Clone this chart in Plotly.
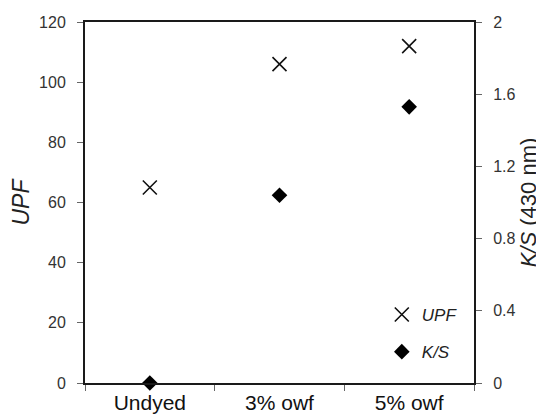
import plotly.graph_objects as go

categories = ["Undyed", "3% owf", "5% owf"]
upf_values = [65, 106, 112]
ks_values = [0.0, 1.04, 1.53]

upf_ticks = [0, 20, 40, 60, 80, 100, 120]
ks_ticks = [0, 0.4, 0.8, 1.2, 1.6, 2]
ks_tick_labels = ["0", "0.4", "0.8", "1.2", "1.6", "2"]

FONT = "Liberation Sans, Arial, sans-serif"
AX = "#1a1a1a"
TK = "#666"

# the page body has an 8px default margin, so the figure is sized to fit the window
fig = go.Figure()
fig.add_trace(go.Scatter(
    x=categories, y=upf_values, mode="markers", name="<i>UPF</i>",
    marker=dict(symbol="x-thin", size=14, line=dict(width=1.6, color="#111")),
    cliponaxis=False, legendgroup="a", yaxis="y",
))
fig.add_trace(go.Scatter(
    x=categories, y=ks_values, mode="markers", name="<i>K/S</i>",
    marker=dict(symbol="diamond", size=12, color="#000"),
    cliponaxis=False, legendgroup="b", yaxis="y2",
))

fig.update_layout(
    width=536, height=406,
    margin=dict(l=77, r=70, t=14, b=31),
    paper_bgcolor="white", plot_bgcolor="white",
    font=dict(family=FONT, color="#333"),
    showlegend=True,
    legend=dict(x=0.763, y=0.036, xanchor="left", yanchor="bottom",
                bgcolor="rgba(0,0,0,0)", font=dict(size=17, color="#222"),
                tracegroupgap=12, itemwidth=30),
    xaxis=dict(
        type="category", categoryarray=categories, range=[-0.5, 2.5],
        showline=True, linecolor=AX, linewidth=2, mirror=True,
        ticks="outside", tickson="boundaries", ticklen=6, tickcolor=TK, tickwidth=1,
        showgrid=False, zeroline=False, automargin=False,
        tickfont=dict(size=21, color="#111"), ticklabelstandoff=0,
    ),
    xaxis2=dict(
        overlaying="x", anchor="y", range=[-0.5, 2.5],
        tickvals=[-0.5, 0.5, 1.5, 2.5], ticks="inside", ticklen=6,
        tickcolor=TK, tickwidth=1, showticklabels=False, automargin=False,
        showgrid=False, zeroline=False, showline=False,
    ),
    yaxis=dict(
        range=[0, 120], tickvals=upf_ticks, showline=True, linecolor=AX, linewidth=2,
        ticks="outside", ticklen=6, tickcolor=TK, tickwidth=1,
        showgrid=False, zeroline=False, automargin=False,
        tickfont=dict(size=16, color="#333"), ticklabelstandoff=8,
        title=dict(text="<i>UPF</i>", font=dict(size=23, color="#222"), standoff=11),
    ),
    yaxis2=dict(
        overlaying="y", side="right", range=[0, 2], tickvals=ks_ticks, ticktext=ks_tick_labels,
        showline=True, linecolor=AX, linewidth=2,
        ticks="outside", ticklen=6, tickcolor=TK, tickwidth=1,
        showgrid=False, zeroline=False, automargin=False,
        tickfont=dict(size=16, color="#333"), ticklabelstandoff=8,
        title=dict(text="<i>K/S</i> (430 nm)", font=dict(size=22, color="#222"), standoff=5),
    ),
    yaxis3=dict(
        overlaying="y", side="left", range=[0, 120], tickvals=upf_ticks,
        ticks="inside", ticklen=6, tickcolor=TK, tickwidth=1, automargin=False,
        showticklabels=False, showgrid=False, zeroline=False, showline=False,
    ),
    yaxis4=dict(
        overlaying="y", side="right", range=[0, 2], tickvals=ks_ticks,
        ticks="inside", ticklen=6, tickcolor=TK, tickwidth=1, automargin=False,
        showticklabels=False, showgrid=False, zeroline=False, showline=False,
    ),
)

fig.write_html("out.html")
